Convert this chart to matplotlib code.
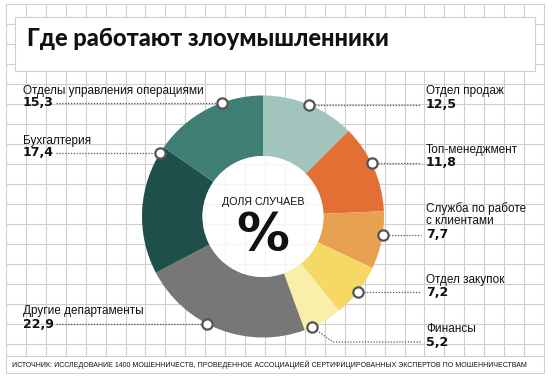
import numpy as np
import matplotlib
matplotlib.use("Agg")
import matplotlib.pyplot as plt
from matplotlib.patches import Rectangle, Circle

# data, clockwise from 12 o'clock
names = ["Отдел продаж", "Топ-менеджмент", "Служба по работе\nс клиентами",
         "Отдел закупок", "Финансы", "Другие департаменты", "Бухгалтерия",
         "Отделы управления операциями"]
values = [12.5, 11.8, 7.7, 7.2, 5.2, 22.9, 17.4, 15.3]
value_labels = ["12,5", "11,8", "7,7", "7,2", "5,2", "22,9", "17,4", "15,3"]
colors = ["#a1c4bc", "#e27035", "#e8a151", "#f6d965", "#faefa9",
          "#777777", "#1f4f4b", "#3f7e74"]

title = "Где работают злоумышленники"
center_top = "ДОЛЯ СЛУЧАЕВ"
source = ("ИСТОЧНИК: ИССЛЕДОВАНИЕ 1400 МОШЕННИЧЕСТВ, ПРОВЕДЕННОЕ АССОЦИАЦИЕЙ "
          "СЕРТИФИЦИРОВАННЫХ ЭКСПЕРТОВ ПО МОШЕННИЧЕСТВАМ")

# layout (pixels)
W, H = 553, 380
cx, cy, R, r_in = 263, 216.5, 121, 60.5
narrow = dict(family=["Liberation Sans", "DejaVu Sans"])
# side, y of name, y of value line
label_pos = [("r", 91, 104.5), ("r", 150, 163), ("r", 214.5, 235),
             ("r", 280, 292), ("r", 329, 342), ("l", 311, 324),
             ("l", 141, 152.5), ("l", 91, 102.5)]

fig = plt.figure(figsize=(W / 100, H / 100), dpi=100)
ax = fig.add_axes([0, 0, 1, 1])
ax.set_xlim(0, W)
ax.set_ylim(H, 0)
renderer = fig.canvas.get_renderer()


def fit_size(s, width, size=10):
    # font size that makes the string `width` pixels wide
    t = ax.text(0, 0, s, fontsize=size, **narrow)
    w = t.get_window_extent(renderer).width
    t.remove()
    return size * width / w


# background grid
gc = "#cfcfcf"
xs = np.linspace(6, 544, 28)
ys = np.arange(3.5, 350, 20)
ax.vlines(xs, 3.5, 356, color=gc, lw=0.8, zorder=0)
ax.hlines(ys, 6, 544, color=gc, lw=0.8, zorder=0)
ax.hlines([356, 373], 6, 544, color=gc, lw=0.8, zorder=0)
ax.vlines([6, 544], 356, 373, color=gc, lw=0.8, zorder=0)

# title box
ax.add_patch(Rectangle((15, 17), 520, 54, facecolor="white", edgecolor="#d0d0d0",
                       lw=0.8, zorder=1))
ax.text(27, 39, title, fontsize=17, fontweight="black", family=["Lato", "DejaVu Sans"],
        color="#111111", va="center", ha="left", zorder=2)

# donut (y axis is inverted, so counterclock in data = clockwise on screen)
ax.pie(values, colors=colors, center=(cx, cy), radius=R, startangle=-90,
       counterclock=True, wedgeprops=dict(width=R - r_in, linewidth=0),
       frame=True)
ax.add_patch(Circle((cx, cy), r_in, facecolor="white", alpha=0.8, lw=0, zorder=3))
ax.text(cx, 202, center_top, fontsize=fit_size(center_top, 82), ha="center",
        va="center", color="#111111", zorder=4, **narrow)
ax.text(cx, 236, "%", fontsize=38, fontweight="bold", ha="center", va="center",
        color="#111111", zorder=4)

# labels, leader lines, markers
lab_fs = fit_size(names[7], 180)
cum = np.concatenate([[0], np.cumsum(values)]) / sum(values)
for i, (side, yn, yv) in enumerate(label_pos):
    tx = 426 if side == "r" else 23
    ax.text(tx, yn, names[i], fontsize=lab_fs, ha="left", va="center",
            linespacing=1.0, color="#111111", zorder=4, **narrow)
    ax.text(tx, yv, value_labels[i], fontsize=9, fontweight="bold", ha="left",
            va="center", color="#111111", zorder=4)
    if names[i] == "Финансы":
        # marker sits inside the wedge, leader bends down to the value line
        a = 2 * np.pi * (cum[i] + 0.8 * (cum[i + 1] - cum[i]))
        mx, my = cx + R * np.sin(a), cy - R * np.cos(a)
        px = [mx, mx + 21, 421]
        py = [my, yv, yv]
    else:
        dx = np.sqrt(R ** 2 - (yv - cy) ** 2)
        mx = cx + dx if side == "r" else cx - dx
        my = yv
        if side == "r":
            px, py = [mx, 421], [my, my]
        else:
            px, py = [56, mx], [my, my]
    ax.plot(px, py, color="#555555", lw=0.9, ls=(0, (1, 1.3)), zorder=4)
    ax.scatter([mx], [my], s=55, facecolor="white", edgecolor="#555555",
               linewidth=1.6, zorder=5)

ax.text(12, 365, source, fontsize=fit_size(source, 505), ha="left", va="center",
        color="#111111", zorder=4, **narrow)

ax.set_xlim(0, W)
ax.set_ylim(H, 0)
ax.set_aspect("auto")
ax.axis("off")
fig.savefig("out.png", dpi=100, facecolor="white")
